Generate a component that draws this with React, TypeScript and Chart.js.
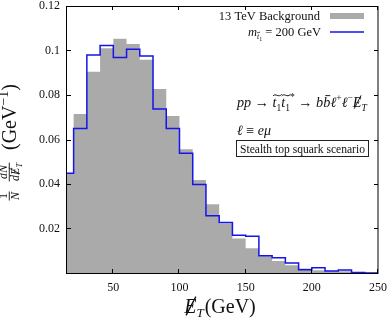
import React, { useEffect, useRef } from 'react';
import { Chart, registerables } from 'chart.js';
Chart.register(...registerables);

// ---- data ----
const binEdges = [10, 20, 30, 40, 50, 60, 70, 80, 90, 100, 110, 120, 130, 140, 150, 160, 170, 180, 190, 200, 210, 220, 230, 240];
const binUpper = 250;
const background = [0.0445, 0.0715, 0.0905, 0.101, 0.1053, 0.1029, 0.0958, 0.0827, 0.0706, 0.0556, 0.0418, 0.0309, 0.0222, 0.0155, 0.0111, 0.0075, 0.0054, 0.0035, 0.002, 0.0012, 0.0008, 0.0008, 0.0003, 0.0001];
const signal = [0.0448, 0.065, 0.098, 0.1023, 0.0968, 0.1006, 0.0975, 0.0737, 0.065, 0.0538, 0.0398, 0.0257, 0.0227, 0.017, 0.0165, 0.0078, 0.0069, 0.0045, 0.0015, 0.0024, 0.0009, 0.0014, 0.0002, 0.0];
const xTicks = [50, 100, 150, 200, 250];
const yTicks = [0.02, 0.04, 0.06, 0.08, 0.1, 0.12];
const legendLabels = ['13 TeV Background', 'm = 200 GeV'];

const FF = "'Liberation Serif', 'Times New Roman', serif";
const TXT = '#111';
const GRAY = '#aaaaaa';
const BLUE = 'rgb(20,20,235)';

const f = (size: number, italic = false) => `${italic ? 'italic ' : ''}${size}px ${FF}`;

function stepPoints(vals: number[]) {
  const pts = binEdges.map((x, i) => ({ x, y: vals[i] }));
  pts.push({ x: binUpper, y: vals[vals.length - 1] });
  return pts;
}

type Run = { t: string; f: string; dy?: number; deco?: 'tilde' | 'bar' | 'slash'; dw?: number; dx?: number };

function runsWidth(ctx: CanvasRenderingContext2D, runs: Run[]) {
  let w = 0;
  for (const r of runs) {
    ctx.font = r.f;
    w += ctx.measureText(r.t).width + (r.dx || 0);
  }
  return w;
}

function drawRuns(ctx: CanvasRenderingContext2D, runs: Run[], x: number, y: number) {
  let cx = x;
  for (const r of runs) {
    ctx.font = r.f;
    const w = ctx.measureText(r.t).width;
    const yy = y + (r.dy || 0);
    ctx.fillText(r.t, cx, yy);
    if (r.deco) {
      const m = r.f.match(/([\d.]+)px/);
      const size = m ? parseFloat(m[1]) : 12;
      ctx.save();
      ctx.strokeStyle = TXT;
      ctx.lineWidth = Math.max(0.8, size / 15);
      ctx.beginPath();
      if (r.deco === 'bar') {
        const by = yy - size * 0.8;
        ctx.moveTo(cx + w * 0.3, by);
        ctx.lineTo(cx + w * 1.0, by);
      } else if (r.deco === 'tilde') {
        const L = w + (r.dw || 0);
        const ty = yy - size * 0.85;
        const x0 = cx + 0.5;
        ctx.moveTo(x0, ty + 1);
        ctx.bezierCurveTo(x0 + L * 0.3, ty - 2.2, x0 + L * 0.6, ty + 3.2, x0 + L, ty - 0.5);
      } else if (r.deco === 'slash') {
        ctx.moveTo(cx + w * 0.15, yy + size * 0.12);
        ctx.lineTo(cx + w * 0.95, yy - size * 0.82);
      }
      ctx.stroke();
      ctx.restore();
    }
    cx += w + (r.dx || 0);
  }
  return cx;
}

function procRuns(s: number): Run[] {
  const k = s * 0.67;
  return [
    { t: 'pp', f: f(s, true) },
    { t: ' \u2192 ', f: f(s) },
    { t: 't', f: f(s, true), deco: 'tilde', dw: k * 0.5 },
    { t: '1', f: f(k), dy: s * 0.25 },
    { t: 't', f: f(s, true), deco: 'tilde', dw: k * 0.5 },
    { t: '1', f: f(k), dy: s * 0.25 },
    { t: '*', f: f(k), dy: -s * 0.5 },
    { t: ' \u2192 ', f: f(s) },
    { t: 'b', f: f(s, true) },
    { t: 'b', f: f(s, true), deco: 'bar' },
    { t: '\u2113', f: f(s, true) },
    { t: '+', f: f(k), dy: -s * 0.42 },
    { t: '\u2113', f: f(s, true) },
    { t: '\u2212', f: f(k), dy: -s * 0.42 },
    { t: 'E', f: f(s, true), deco: 'slash' },
    { t: 'T', f: f(k, true), dy: s * 0.25 },
  ];
}

function lepRuns(s: number): Run[] {
  return [
    { t: '\u2113', f: f(s, true) },
    { t: ' \u2261 ', f: f(s) },
    { t: 'e\u03bc', f: f(s, true) },
  ];
}

const overlay = {
  id: 'overlay',
  afterDatasetsDraw(chart: any) {
    const { ctx, chartArea: ca } = chart;
    const xs = chart.scales.x;
    const ys = chart.scales.y;
    ctx.save();
    ctx.strokeStyle = '#000';
    ctx.lineWidth = 1;
    ctx.strokeRect(ca.left - 0.5, ca.top + 0.5, ca.right - ca.left + 0.5, ca.bottom - ca.top);
    ctx.beginPath();
    for (const v of xTicks) {
      const px = Math.round(xs.getPixelForValue(v)) - 0.5;
      ctx.moveTo(px, ca.bottom);
      ctx.lineTo(px, ca.bottom - 4);
      ctx.moveTo(px, ca.top);
      ctx.lineTo(px, ca.top + 4);
    }
    for (const v of yTicks) {
      const py = Math.round(ys.getPixelForValue(v)) + 0.5;
      ctx.moveTo(ca.left, py);
      ctx.lineTo(ca.left + 4, py);
      ctx.moveTo(ca.right, py);
      ctx.lineTo(ca.right - 4, py);
    }
    ctx.stroke();
    ctx.restore();
  },
  afterDraw(chart: any) {
    const ctx: CanvasRenderingContext2D = chart.ctx;
    ctx.save();
    ctx.fillStyle = TXT;
    ctx.textBaseline = 'alphabetic';
    ctx.textAlign = 'left';

    // legend
    const row1: Run[] = [{ t: legendLabels[0], f: f(12.5) }];
    const w1 = runsWidth(ctx, row1);
    drawRuns(ctx, row1, 320 - w1, 20);
    ctx.fillStyle = GRAY;
    ctx.fillRect(330, 13, 34, 6);
    ctx.fillStyle = TXT;
    const row2: Run[] = [
      { t: 'm', f: f(12.5, true) },
      { t: 't', f: f(8, true), dy: 3, deco: 'tilde', dw: 0 },
      { t: '1', f: f(6), dy: 4.5 },
      { t: legendLabels[1].slice(1), f: f(12.5) },
    ];
    const w2 = runsWidth(ctx, row2);
    drawRuns(ctx, row2, 321 - w2, 36);
    ctx.save();
    ctx.strokeStyle = BLUE;
    ctx.lineWidth = 1.5;
    ctx.beginPath();
    ctx.moveTo(330, 32);
    ctx.lineTo(364, 32);
    ctx.stroke();
    ctx.restore();

    // process annotation, fitted to its width in the reference
    const pw = runsWidth(ctx, procRuns(12));
    const ps = 12 * 130 / pw;
    drawRuns(ctx, procRuns(ps), 237, 107);

    const lw = runsWidth(ctx, lepRuns(12));
    const ls = Math.min(14, 12 * 38 / lw);
    drawRuns(ctx, lepRuns(ls), 237, 135);

    // boxed label
    ctx.save();
    ctx.strokeStyle = '#222';
    ctx.lineWidth = 1;
    ctx.strokeRect(236.5, 140.5, 132, 16);
    ctx.restore();
    const sw = runsWidth(ctx, [{ t: 'Stealth top squark scenario', f: f(12) }]);
    drawRuns(ctx, [{ t: 'Stealth top squark scenario', f: f(12 * 125 / sw) }], 240, 152.5);

    // x-axis title
    const xt: Run[] = [
      { t: 'E', f: f(20, true), deco: 'slash' },
      { t: 'T', f: f(13, true), dy: 4, dx: 1 },
      { t: '(GeV)', f: f(20) },
    ];
    const xtw = runsWidth(ctx, xt);
    drawRuns(ctx, xt, 220 - xtw / 2, 313);

    // y-axis title (rotated)
    ctx.save();
    ctx.rotate(-Math.PI / 2);
    const g: Run[] = [
      { t: '(GeV', f: f(20) },
      { t: '\u22121', f: f(14), dy: -8 },
      { t: ')', f: f(20) },
    ];
    const gw = runsWidth(ctx, g);
    drawRuns(ctx, g, -117 - gw / 2, 16);

    const num1: Run[] = [{ t: 'dN', f: f(12, true) }];
    const den1: Run[] = [
      { t: 'd', f: f(12, true) },
      { t: 'E', f: f(12, true), deco: 'slash' },
      { t: 'T', f: f(8, true), dy: 3 },
    ];
    const c1 = -172;
    const nw1 = runsWidth(ctx, num1);
    const dw1 = runsWidth(ctx, den1);
    drawRuns(ctx, num1, c1 - nw1 / 2, 7);
    drawRuns(ctx, den1, c1 - dw1 / 2, 18.5);
    ctx.fillRect(c1 - Math.max(nw1, dw1) / 2 - 0.5, 8.8, Math.max(nw1, dw1) + 1, 0.9);

    const c2 = -196;
    const num2: Run[] = [{ t: '1', f: f(12) }];
    const den2: Run[] = [{ t: 'N', f: f(12, true) }];
    const nw2 = runsWidth(ctx, num2);
    const dw2 = runsWidth(ctx, den2);
    drawRuns(ctx, num2, c2 - nw2 / 2, 7);
    drawRuns(ctx, den2, c2 - dw2 / 2, 18.5);
    ctx.fillRect(c2 - Math.max(nw2, dw2) / 2 - 0.5, 8.8, Math.max(nw2, dw2) + 1, 0.9);
    ctx.restore();

    ctx.restore();
  },
};

export default function App() {
  const ref = useRef<HTMLCanvasElement>(null);
  useEffect(() => {
    const canvas = ref.current;
    if (!canvas) return;
    const chart = new Chart(canvas, {
      type: 'line',
      data: {
        datasets: [
          {
            label: legendLabels[0],
            data: stepPoints(background),
            stepped: 'before',
            fill: 'origin',
            backgroundColor: GRAY,
            borderColor: 'rgba(0,0,0,0)',
            borderWidth: 0,
            pointRadius: 0,
            order: 1,
          },
          {
            label: legendLabels[1],
            data: stepPoints(signal),
            stepped: 'before',
            fill: false,
            borderColor: BLUE,
            borderWidth: 1.5,
            pointRadius: 0,
            order: 0,
          },
        ],
      },
      options: {
        animation: false,
        responsive: false,
        devicePixelRatio: 1,
        layout: { padding: { left: 0, top: 6, right: 10, bottom: 0 } },
        plugins: { legend: { display: false }, tooltip: { enabled: false } },
        scales: {
          x: {
            type: 'linear',
            min: 15,
            max: 250,
            grid: { display: false, drawTicks: false },
            border: { display: false },
            afterBuildTicks: (s: any) => {
              s.ticks = xTicks.map((v) => ({ value: v }));
            },
            ticks: {
              autoSkip: false,
              maxRotation: 0,
              padding: 8,
              color: TXT,
              font: { family: FF, size: 12 },
              callback: (v: any) => String(v),
            },
            afterFit: (s: any) => {
              s.height = 46;
              s.paddingLeft = 0;
              s.paddingRight = 0;
            },
          },
          y: {
            type: 'linear',
            min: 0,
            max: 0.12,
            grid: { display: false, drawTicks: false },
            border: { display: false },
            afterBuildTicks: (s: any) => {
              s.ticks = yTicks.map((v) => ({ value: v }));
            },
            ticks: {
              padding: 7,
              color: TXT,
              font: { family: FF, size: 12 },
              callback: (v: any) => String(Number(Number(v).toFixed(2))),
            },
            afterFit: (s: any) => {
              s.width = 67;
              s.paddingTop = 0;
              s.paddingBottom = 0;
            },
          },
        },
      },
      plugins: [overlay],
    });
    return () => chart.destroy();
  }, []);
  return (
    <div style={{ position: 'fixed', left: 0, top: 0, width: 388, height: 319, background: '#fff' }}>
      <canvas ref={ref} width={388} height={319} style={{ width: 388, height: 319, display: 'block' }} />
    </div>
  );
}
